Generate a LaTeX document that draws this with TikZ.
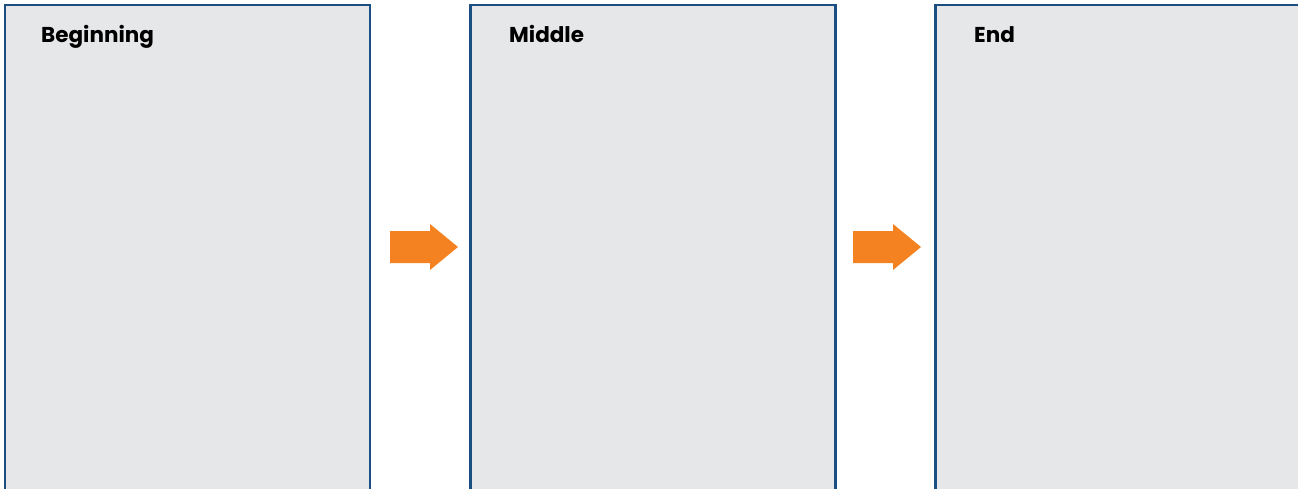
\documentclass[tikz,border=0pt]{standalone}
\usepackage{fontspec}
\setmainfont{Poppins}
\definecolor{boxfill}{HTML}{E6E7E8}
\definecolor{boxline}{HTML}{1B4F82}
\definecolor{arrowor}{HTML}{F58220}
\begin{document}
\begin{tikzpicture}[x=1pt,y=-1pt,
  panel/.style={fill=boxfill,draw=boxline,line width=2.5pt,anchor=north west,inner sep=0pt,outer sep=0pt,minimum height=500pt},
  title/.style={anchor=base west,inner sep=0pt,font=\fontsize{21.5}{24}\selectfont\bfseries},
  flow/.style={fill=arrowor,draw=none}]
\useasboundingbox (0,0) rectangle (1298,489);
\clip (0,0) rectangle (1298,489);
\node[panel,minimum width=365pt] (p1) at (5,5) {};
\node[panel,minimum width=365pt] (p2) at (470.5,5) {};
\node[panel,minimum width=380pt] (p3) at (935.5,5) {};
\node[title] (t1) at (41,43) {Beginning};
\node[title] (t2) at (509,43) {Middle};
\node[title] (t3) at (974,43) {End};
\fill[flow] (390,231) -- (430,231) -- (430,224) -- (458,247) -- (430,270) -- (430,263) -- (390,263) -- cycle;
\fill[flow] (853,231) -- (893,231) -- (893,224) -- (921,247) -- (893,270) -- (893,263) -- (853,263) -- cycle;
\end{tikzpicture}
\end{document}
